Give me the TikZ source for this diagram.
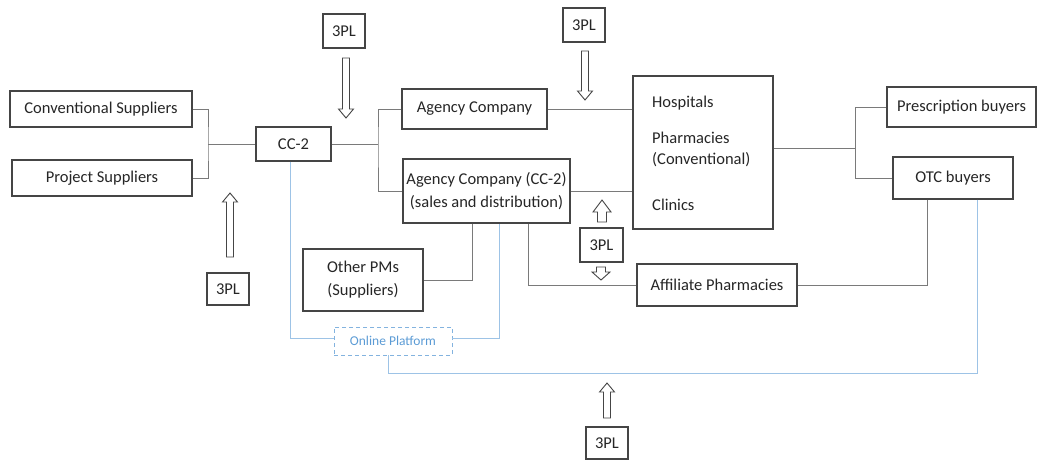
\documentclass[tikz,border=0pt]{standalone}
\usepackage{fontspec}
\setmainfont{Carlito}
\usetikzlibrary{calc}
\definecolor{boxline}{HTML}{454545}
\definecolor{linkline}{HTML}{7A7A7A}
\definecolor{weblink}{HTML}{9DC3E6}
\definecolor{webtext}{HTML}{5B9BD5}
\definecolor{ink}{HTML}{262626}
\begin{document}
\begin{tikzpicture}[x=1pt,y=-1pt,
  font=\fontsize{16.5}{23}\selectfont, text=ink,
  box/.style={draw=boxline, line width=1.1pt, fill=white, inner sep=0pt, align=center},
  tplbox/.style={box, minimum width=42pt, minimum height=34pt},
  link/.style={draw=linkline, line width=0.9pt},
  web/.style={draw=weblink, line width=0.9pt},
  arrowline/.style={draw=boxline, line width=0.9pt, fill=white},
  pics/hollow/.style n args={4}{code={
    \draw[arrowline] (-#2,0) -- (#2,0) -- (#2,#1-#4) -- (#3,#1-#4) -- (0,#1)
      -- (-#3,#1-#4) -- (-#2,#1-#4) -- cycle;}}
]
\useasboundingbox (0,0) rectangle (1038,461);

% junction points of the bracket connectors
\coordinate (j1) at (208,144);
\coordinate (j2) at (378,144);
\coordinate (j3) at (855,148);
\coordinate (c1) at (927,285);
\coordinate (d1) at (472,280);
\coordinate (d2) at (528,285);
\coordinate (w1) at (977,373);
\coordinate (w2) at (388,373);
\coordinate (w3) at (499,338);
\coordinate (w4) at (290,338);

% nodes
\node[box, minimum width=182pt, minimum height=36pt] (conv) at (101,109) {Conventional Suppliers};
\node[box, minimum width=180pt, minimum height=36pt] (proj) at (102,178) {Project Suppliers};
\node[box, minimum width=75pt, minimum height=34pt] (cc2) at (293.5,144) {CC-2};
\node[box, minimum width=145pt, minimum height=40pt] (ag1) at (474.5,109) {Agency Company};
\node[box, minimum width=167pt, minimum height=64pt] (ag2) at (486.5,191) {Agency Company (CC-2)\\(sales and distribution)};
\node[box, minimum width=140pt, minimum height=153pt] (hosp) at (703,152.5) {};
\node[anchor=west, inner sep=0pt] (h1) at (652,103) {Hospitals};
\node[anchor=west, inner sep=0pt] (h2) at (652,138) {Pharmacies};
\node[anchor=west, inner sep=0pt] (h3) at (652,160) {(Conventional)};
\node[anchor=west, inner sep=0pt] (h4) at (652,205) {Clinics};
\node[box, minimum width=149pt, minimum height=40pt] (presc) at (961.5,107) {Prescription buyers};
\node[box, minimum width=120pt, minimum height=42pt] (otc) at (953,178) {OTC buyers};
\node[box, minimum width=120pt, minimum height=62pt] (others) at (363,280) {Other PMs\\(Suppliers)};
\node[box, minimum width=160pt, minimum height=42pt] (aff) at (717,285) {Affiliate Pharmacies};
\node[draw=weblink!60!webtext, dash pattern=on 4pt off 3pt, line width=0.9pt,
      text=webtext, font=\fontsize{13.5}{16}\selectfont,
      minimum width=118pt, minimum height=28pt, inner sep=0pt] (online) at (393,341) {Online Platform};

\node[tplbox] (p1) at (344,31) {3PL};
\node[tplbox] (p2) at (584,25) {3PL};
\node[tplbox, minimum height=32pt] (p3) at (228,289) {3PL};
\node[tplbox, minimum width=43pt] (p4) at (601.5,245) {3PL};
\node[tplbox, minimum height=32pt] (p5) at (607,443) {3PL};

% connectors
\draw[link] (conv.east) -| (j1) |- (proj.east);
\draw[link] (j1) -- (cc2.west);
\draw[link] (cc2.east) -- (j2);
\draw[link] (ag1.west) -| (j2) |- (ag2.west);
\draw[link] (ag1.east) -- (ag1.east -| hosp.west);
\draw[link] (ag2.east) -- (ag2.east -| hosp.west);
\draw[link] (hosp.east |- j3) -- (j3);
\draw[link] (presc.west) -| (j3) |- (otc.west);
\draw[link] (otc.south -| c1) |- (aff.east);
\draw[link] (ag2.south -| d1) |- (others.east);
\draw[link] (ag2.south -| d2) |- (aff.west);

% online channel
\draw[web] (otc.south -| w1) -- (w1) -- (w2) -- (online.south -| w2);
\draw[web] (cc2.south -| w4) -- (w4) -- (online.west |- w4);
\draw[web] (online.east |- w3) -- (w3) -- (ag2.south -| w3);

% logistics arrows
\pic at (346,58) {hollow={60}{3.5}{7.5}{9}};
\pic at (585,51) {hollow={49}{3.5}{7.5}{9}};
\pic at (230,257) {hollow={-64}{3.5}{7.5}{-9}};
\pic at (602,222) {hollow={-22}{4.5}{9}{-12}};
\pic at (601,267) {hollow={13}{4.5}{9}{8}};
\pic at (607,418) {hollow={-35}{3.5}{7.5}{-9}};
\end{tikzpicture}
\end{document}
